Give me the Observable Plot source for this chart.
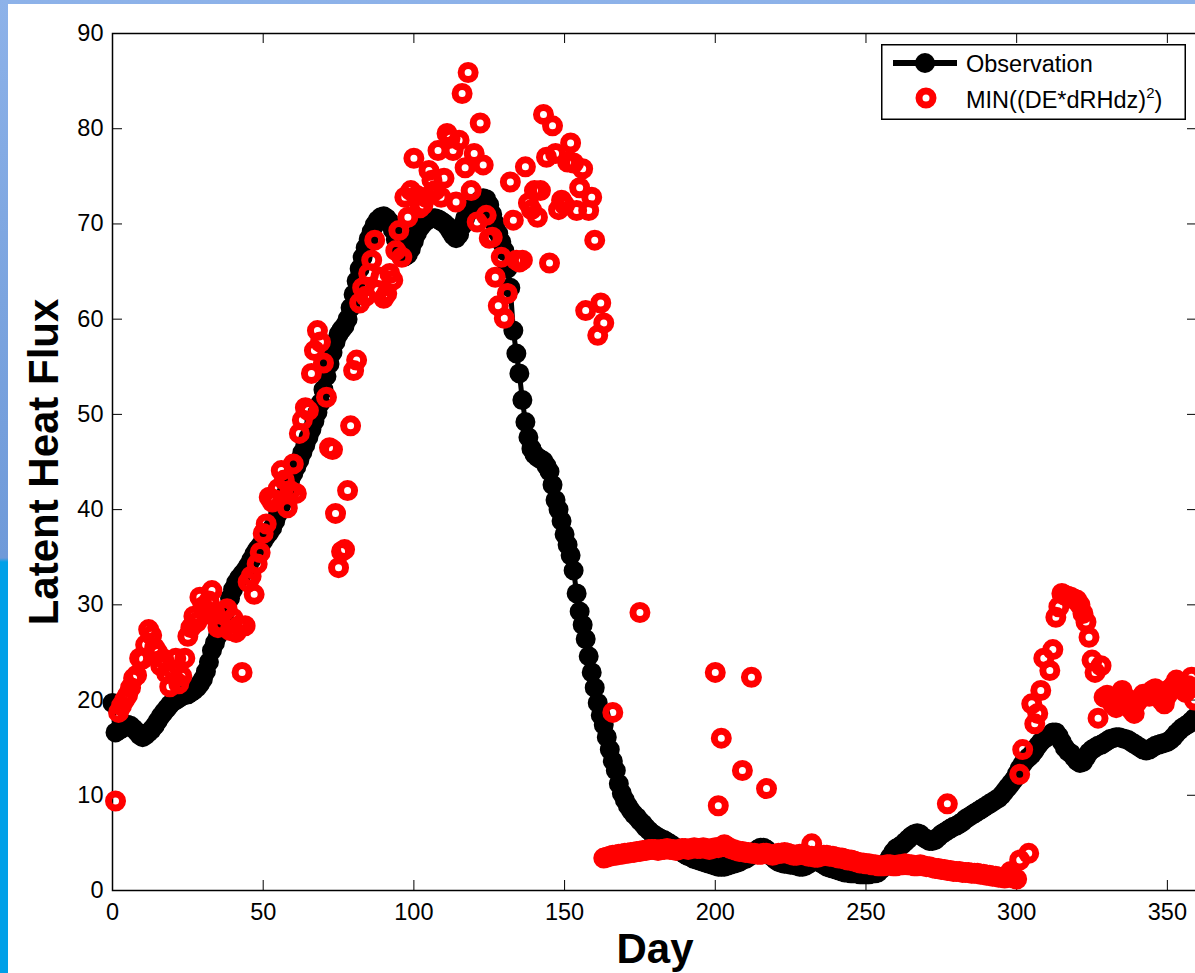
<!DOCTYPE html>
<html><head><meta charset="utf-8">
<script src="https://cdn.jsdelivr.net/npm/d3@7"></script>
<script src="https://cdn.jsdelivr.net/npm/@observablehq/plot@0.6"></script>
<style>
html,body{margin:0;padding:0;overflow:hidden;width:1195px;height:973px;}
body{position:relative;background:linear-gradient(to bottom,#8db2e9 0px,#7ba4df 300px,#6f9ad9 558px,#00a0e8 562px,#00a0e8 973px);font-family:"Liberation Sans",Arial,Helvetica,sans-serif;}
#page{position:absolute;left:8px;top:4px;width:1192px;height:969px;background:#fff;}
#legend{position:absolute;left:881px;top:44px;width:305px;height:76px;}
</style></head>
<body>
<div id="page"></div>
<div id="legend">
<svg width="305" height="76" style="overflow:visible">
<rect x="0.75" y="0.75" width="303.5" height="74.5" fill="#fff" stroke="#000" stroke-width="1.5"/>
<line x1="12" y1="19" x2="76" y2="19" stroke="#000" stroke-width="6"/>
<circle cx="44" cy="19" r="10" fill="#000"/>
<circle cx="45" cy="54" r="7" fill="none" stroke="#ff0000" stroke-width="7"/>
<text x="85" y="28" font-size="23.5" font-family="Liberation Sans, Arial, sans-serif">Observation</text>
<text x="85" y="64" font-size="23.5" font-family="Liberation Sans, Arial, sans-serif">MIN((DE*dRHdz)<tspan dy="-10" font-size="15">2</tspan><tspan dy="10">)</tspan></text>
</svg>
</div>
<script>
// Observation: daily values, day 0..360
const obsStartDay = 0;
const obsValue = [
19.7,16.6,16.8,17.0,17.2,17.4,17.3,17.0,16.7,16.3,
16.1,16.3,16.6,16.9,17.3,17.8,18.3,18.7,19.1,19.5,
19.8,20.0,20.2,20.4,20.5,20.6,20.8,21.0,21.3,21.7,
22.2,23.0,24.0,25.2,26.0,26.8,27.6,28.6,29.6,30.7,
31.6,32.3,32.8,33.2,33.6,34.1,34.7,35.3,35.8,36.2,
36.7,37.2,37.6,38.1,38.8,39.6,40.5,41.4,42.3,43.1,
43.8,44.5,45.2,46.0,46.8,47.6,48.4,49.3,50.2,51.2,
52.6,54.0,55.3,56.5,57.6,58.4,58.9,59.3,60.0,61.2,
62.6,64.0,65.3,66.5,67.5,68.4,69.2,69.9,70.4,70.7,
70.8,70.6,70.2,69.4,68.4,67.5,66.9,66.6,66.8,67.4,
68.2,69.0,69.6,70.0,70.3,70.5,70.6,70.6,70.5,70.3,
70.1,69.8,69.3,68.8,68.5,68.9,69.8,70.6,71.2,71.6,
71.9,72.2,72.5,72.7,72.6,72.0,71.0,70.0,69.0,68.1,
67.2,65.3,63.3,58.8,56.4,54.3,51.5,49.2,47.6,46.4,
45.8,45.5,45.3,45.1,44.6,44.0,42.6,41.0,40.0,38.8,
37.4,36.3,35.2,33.6,31.2,29.3,27.9,26.4,24.6,22.9,
21.3,19.7,18.4,17.4,16.1,14.8,13.6,12.6,11.2,10.2,
9.5,8.9,8.4,8.0,7.7,7.3,7.0,6.6,6.3,6.0,
5.8,5.6,5.4,5.3,5.1,4.9,4.7,4.4,4.2,4.0,
3.8,3.6,3.5,3.3,3.2,3.1,3.0,2.9,2.8,2.7,
2.6,2.5,2.5,2.5,2.6,2.7,2.8,2.9,3.0,3.2,
3.3,3.5,3.7,4.0,4.3,4.5,4.5,4.3,3.9,3.5,
3.2,3.0,2.9,2.8,2.8,2.7,2.7,2.6,2.5,2.5,
2.6,2.8,3.0,3.2,3.1,2.9,2.7,2.5,2.4,2.3,
2.2,2.1,2.0,1.9,1.9,1.8,1.8,1.8,1.7,1.7,
1.7,1.7,1.8,1.8,1.9,2.2,2.6,3.0,3.5,4.0,
4.4,4.6,4.8,5.1,5.4,5.7,5.9,6.0,5.9,5.6,
5.4,5.2,5.2,5.3,5.6,5.9,6.1,6.3,6.5,6.7,
6.8,7.0,7.2,7.5,7.7,7.9,8.1,8.3,8.5,8.7,
8.9,9.1,9.3,9.5,9.7,10.0,10.4,10.8,11.2,11.6,
12.2,12.8,13.3,13.7,14.0,14.3,14.7,15.2,15.6,15.9,
16.1,16.3,16.6,16.6,16.2,15.6,15.0,14.6,14.4,14.0,
13.6,13.4,13.5,14.0,14.5,14.8,15.0,15.2,15.3,15.5,
15.7,15.9,16.0,16.1,16.1,16.0,15.9,15.8,15.6,15.4,
15.2,15.0,14.8,14.7,14.8,15.0,15.2,15.3,15.4,15.5,
15.6,15.8,16.1,16.5,16.8,17.1,17.3,17.5,17.8,18.1,18.4
];

// MIN((DE*dRHdz)^2): scattered estimates (day, value)
const redDay = [
1,2,3,4,5,6,7,8,9,10,11,12,13,14,15,16,17,18,19,20,
21,22,23,24,25,26,27,28,29,30,31,32,33,34,35,36,37,38,39,40,
41,42,43,44,45,46,47,48,49,50,51,52,53,54,55,56,57,58,59,60,
61,62,63,64,65,66,67,68,69,70,71,72,73,74,75,76,77,78,79,80,
81,82,83,84,85,86,87,88,89,90,91,92,93,94,95,96,97,98,99,100,
101,102,103,104,105,106,107,108,109,110,111,112,113,114,115,116,117,118,119,120,
121,122,123,124,125,126,127,128,129,130,131,132,133,134,135,136,137,138,139,140,
141,142,143,144,145,146,147,148,149,150,151,152,153,154,155,156,157,158,159,160,
161,162,163
];
const redValue = [
9.4,18.7,19.4,20.0,20.5,21.3,22.3,22.6,24.4,24.3,25.8,27.4,26.8,25.5,25.0,23.6,24.3,22.8,21.4,23.2,
24.4,21.7,22.5,24.4,26.7,27.6,28.8,28.2,30.8,29.8,29.0,30.4,31.5,29.2,27.6,28.0,29.3,29.6,27.3,28.6,
27.1,27.8,22.9,27.8,32.4,33.0,31.1,34.3,35.5,37.5,38.5,41.3,40.8,41.0,42.2,44.1,43.1,40.2,42.0,44.8,
41.7,48.0,49.4,50.7,50.4,54.3,56.7,58.8,57.6,55.4,51.8,46.5,46.3,39.6,33.9,35.6,35.8,42.0,48.8,54.6,
55.7,61.7,63.3,62.4,64.8,66.2,68.3,63.0,64.4,62.2,62.7,64.8,64.1,67.2,69.3,66.5,72.8,70.7,73.5,76.9,
73.0,71.7,72.0,72.8,75.6,74.6,73.5,77.7,72.8,74.8,79.5,79.0,77.7,72.3,78.8,83.7,75.9,85.9,73.5,77.4,
70.2,80.6,76.2,70.9,68.5,68.6,64.4,61.4,66.5,60.1,62.7,74.4,70.4,66.2,66.0,66.2,76.0,72.2,71.5,73.5,
70.7,73.5,81.5,77.0,65.9,80.3,77.4,71.5,72.5,72.0,76.5,78.5,76.4,71.4,73.8,75.8,60.9,71.4,72.8,68.3,
58.3,61.7,59.6
];
// low band, daily from day 163 to 300
const bandStartDay = 163;
const bandValue = [
3.4,3.5,3.6,3.7,3.7,3.8,3.8,3.9,3.9,4.0,4.0,4.1,4.1,4.2,4.2,4.3,4.3,
4.3,4.2,4.3,4.3,4.4,4.3,4.3,4.2,4.3,4.4,4.4,4.3,4.4,4.5,4.4,4.4,4.5,4.4,4.3,4.4,
4.5,4.5,4.6,4.8,4.6,4.4,4.3,4.2,4.1,4.1,4.0,4.0,3.9,3.9,3.8,3.8,3.9,3.9,3.8,3.7,
3.8,3.9,3.9,4.0,3.9,3.8,3.7,3.7,3.8,3.8,3.7,3.6,3.6,3.5,3.5,3.6,3.7,3.7,3.6,3.6,
3.5,3.4,3.4,3.3,3.2,3.2,3.1,3.0,2.9,2.9,2.8,2.8,2.7,2.7,2.6,2.6,2.6,2.7,2.7,2.6,
2.6,2.7,2.7,2.8,2.7,2.7,2.6,2.6,2.7,2.6,2.5,2.5,2.4,2.3,2.3,2.2,2.2,2.1,2.1,2.0,
2.0,2.0,1.9,1.9,1.9,1.8,1.8,1.8,1.7,1.7,1.6,1.6,1.5,1.5,1.4,1.4,1.3,1.4,2.0,1.3,1.2
];
// isolated points after day 163
const outDay = [166,175,200,201,202,209,212,217,232,277,301,304];
const outValue = [18.7,29.2,22.9,8.9,16.0,12.6,22.4,10.7,4.9,9.1,3.2,3.9];
// late-year scatter
const lateDay = [301,302,305,306,307,308,309,311,312,313,314,315,316,317,318,319,320,321,322,323,324,325,326,327,328,329,330,
331,332,333,334,335,336,337,338,339,340,341,342,343,344,345,346,347,348,349,350,351,352,353,354,355,356,357,358,359,360];
const lateValue = [12.2,14.8,19.6,17.5,18.6,21.0,24.4,23.1,25.3,28.7,29.8,31.2,31.0,30.9,30.8,30.6,30.5,30.0,29.1,28.2,26.6,24.2,22.9,18.1,23.6,20.3,20.5,
20.0,19.5,19.2,20.5,21.0,20.3,19.5,19.0,18.6,19.8,20.2,20.6,20.5,20.4,21.0,21.2,20.5,20.0,19.6,20.5,21.2,21.5,22.1,21.6,21.2,20.8,21.5,22.4,20.0,21.3];

const xTicks = [0,50,100,150,200,250,300,350];
const yTicks = [0,10,20,30,40,50,60,70,80,90];

const obs = obsValue.map((v,i)=>({day: obsStartDay + i, v}));
const red = [
  ...redDay.map((d,i)=>({day:d, v:redValue[i]})),
  ...bandValue.map((v,i)=>({day: bandStartDay + i, v})),
  ...outDay.map((d,i)=>({day:d, v:outValue[i]})),
  ...lateDay.map((d,i)=>({day:d, v:lateValue[i]}))
];

const W = 1192, H = 969, mL = 104, mT = 29, mR = 3, mB = 83;
const plotW = W - mL - mR, plotH = H - mT - mB;

const chart = Plot.plot({
  width: W, height: H,
  marginLeft: mL, marginTop: mT, marginRight: mR, marginBottom: mB,
  style: {fontFamily: "Liberation Sans, Arial, Helvetica, sans-serif", fontSize: "23.5px", background: "transparent", overflow: "visible", color: "#000"},
  x: {domain: [0, 360]},
  y: {domain: [0, 90]},
  marks: [
    Plot.frame({stroke: "#000", strokeWidth: 1.5}),
    Plot.ruleX(xTicks, {x: d=>d, insetTop: plotH - 10, stroke: "#000", strokeWidth: 1}),
    Plot.ruleX(xTicks, {x: d=>d, insetBottom: plotH - 10, stroke: "#000", strokeWidth: 1}),
    Plot.ruleY(yTicks, {y: d=>d, insetRight: plotW - 10, stroke: "#000", strokeWidth: 1}),
    Plot.ruleY(yTicks, {y: d=>d, insetLeft: plotW - 10, stroke: "#000", strokeWidth: 1}),
    Plot.axisX(xTicks, {anchor: "bottom", tickSize: 0, tickPadding: 13, label: null, fontSize: 23.5}),
    Plot.axisY(yTicks, {anchor: "left", tickSize: 0, tickPadding: 9, label: null, fontSize: 23.5}),
    Plot.text(["Day"], {text: d=>d, frameAnchor: "bottom", textAnchor: "middle", lineAnchor: "middle", dy: 58.6, fontSize: 42, fontWeight: "bold"}),
    Plot.text(["Latent Heat Flux"], {text: d=>d, frameAnchor: "left", textAnchor: "middle", lineAnchor: "middle", rotate: -90, dx: -68, fontSize: 42, fontWeight: "bold"}),
    Plot.line(obs, {x: "day", y: "v", stroke: "#000", strokeWidth: 5}),
    Plot.dot(obs, {x: "day", y: "v", r: 9, fill: "#000", stroke: "#000", strokeWidth: 2}),
    Plot.dot(red, {x: "day", y: "v", r: 7, fill: "none", stroke: "#ff0000", strokeWidth: 7})
  ]
});
document.getElementById("page").appendChild(chart);
</script>
</body></html>
